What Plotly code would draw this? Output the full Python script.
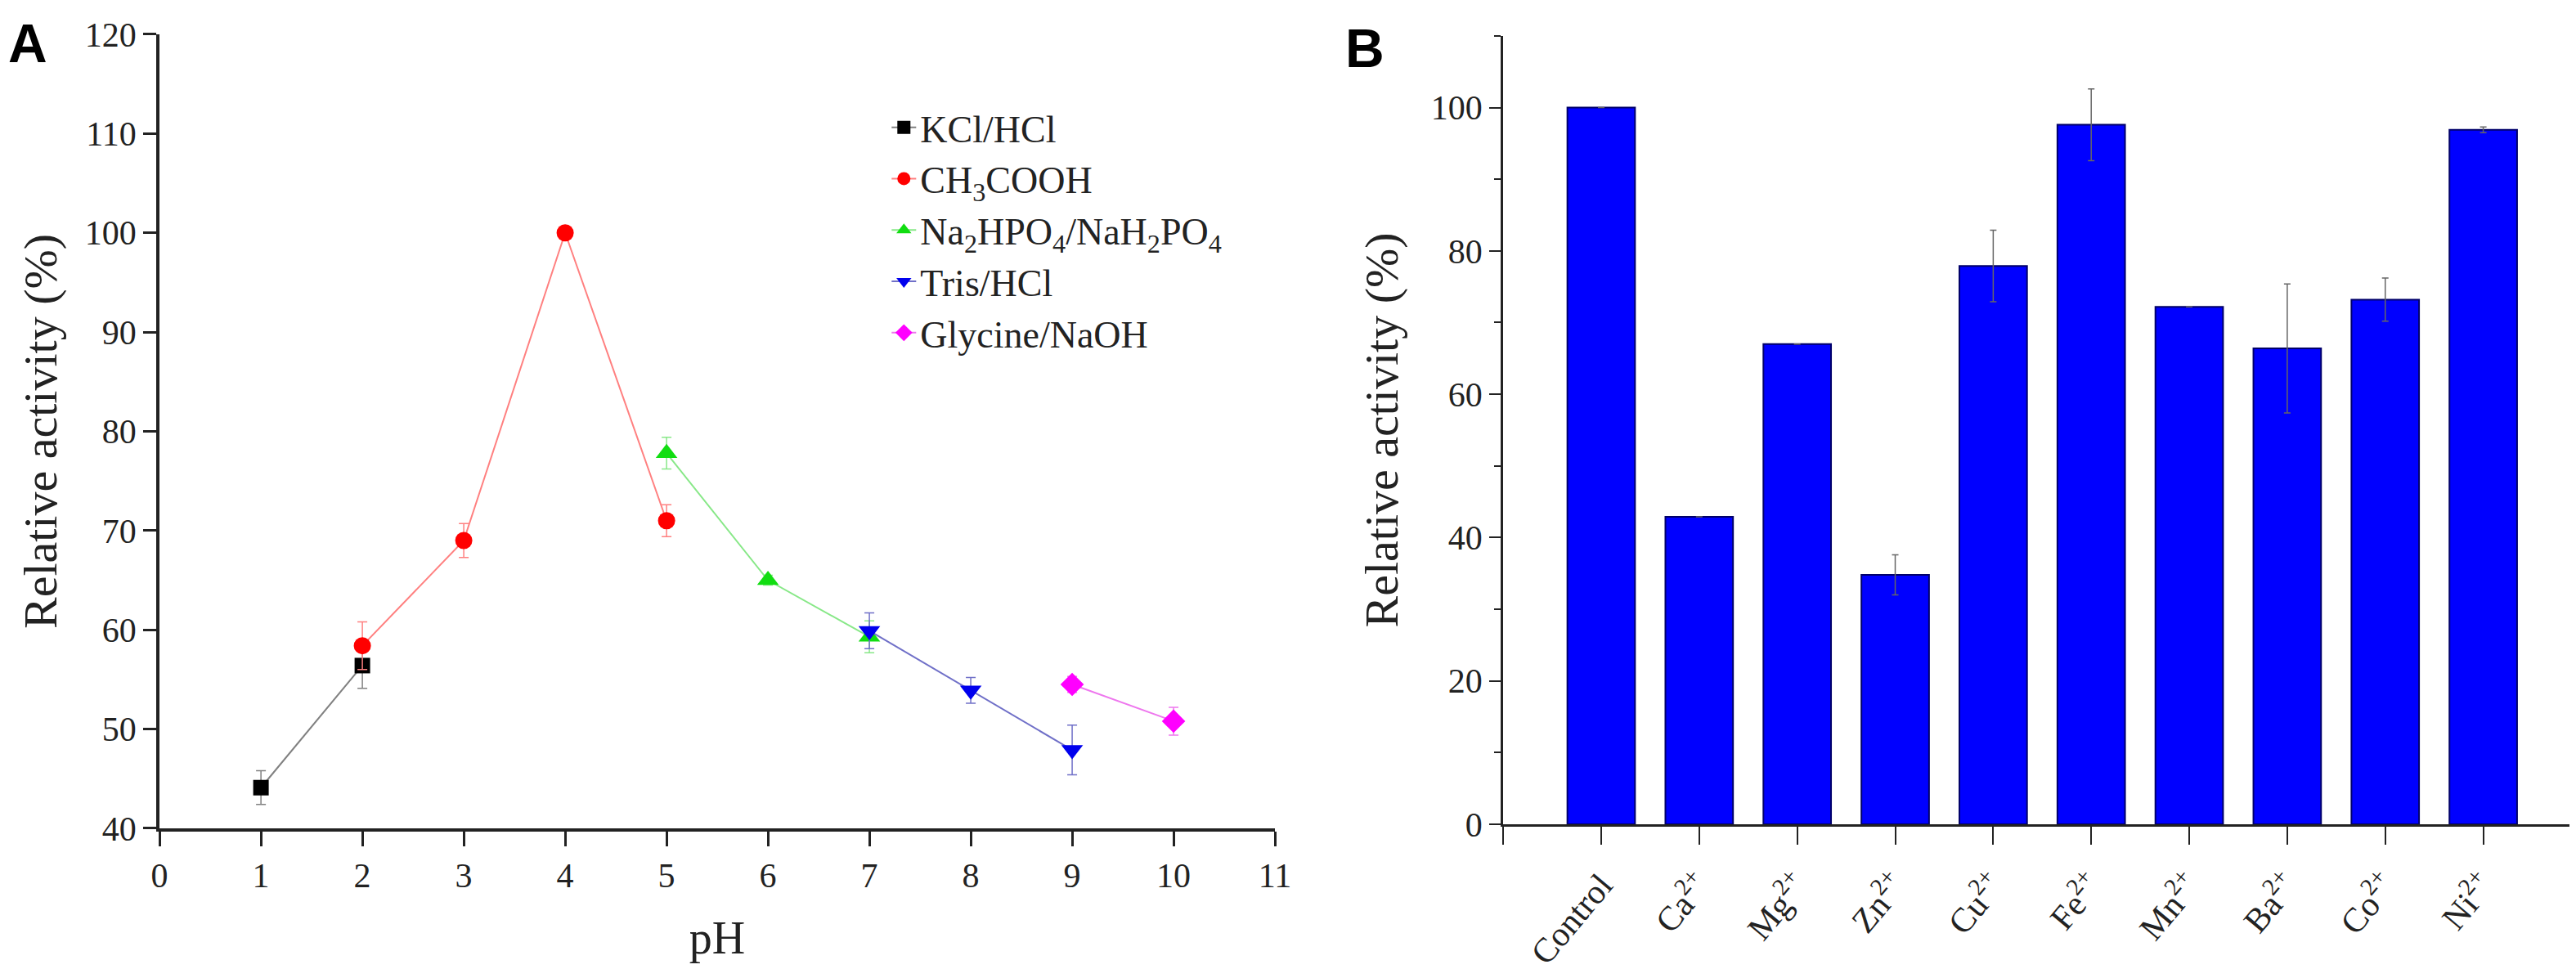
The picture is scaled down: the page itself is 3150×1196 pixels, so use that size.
import plotly.graph_objects as go

# ---- panel A data: pH profile, one list per buffer ----
kcl_ph = [1, 2]
kcl_act = [44.1, 56.4]
kcl_err = [1.7, 2.3]

acetate_ph = [2, 3, 4, 5]
acetate_act = [58.4, 69.0, 100.0, 71.0]
acetate_err = [2.4, 1.7, 0.3, 1.6]

phosphate_ph = [5, 6, 7]
phosphate_act = [77.8, 65.0, 59.3]
phosphate_err = [1.6, 0.5, 1.6]

tris_ph = [7, 8, 9]
tris_act = [59.9, 53.9, 47.9]
tris_err = [1.8, 1.3, 2.5]

glycine_ph = [9, 10]
glycine_act = [54.5, 50.8]
glycine_err = [0.8, 1.4]

# ---- panel B data: metal ions ----
ions = ["Control", "Ca<sup>2+</sup>", "Mg<sup>2+</sup>", "Zn<sup>2+</sup>", "Cu<sup>2+</sup>",
        "Fe<sup>2+</sup>", "Mn<sup>2+</sup>", "Ba<sup>2+</sup>", "Co<sup>2+</sup>", "Ni<sup>2+</sup>"]
ion_act = [100.0, 42.9, 67.0, 34.8, 77.9, 97.6, 72.2, 66.4, 73.2, 96.9]
ion_err = [0, 0, 0, 2.8, 5.0, 5.0, 0, 9.0, 3.0, 0.4]

SERIF = "Liberation Serif"

fig = go.Figure()

series = [
    ("KCl/HCl", kcl_ph, kcl_act, kcl_err, "square", "#000000", "#808080", 19),
    ("CH<sub>3</sub>COOH", acetate_ph, acetate_act, acetate_err, "circle", "#ff0000", "#ff8080", 21),
    ("Na<sub>2</sub>HPO<sub>4</sub>/NaH<sub>2</sub>PO<sub>4</sub>", phosphate_ph, phosphate_act,
     phosphate_err, "triangle-up", "#11dd11", "#88e888", 23),
    ("Tris/HCl", tris_ph, tris_act, tris_err, "triangle-down", "#0000ee", "#7070c8", 23),
    ("Glycine/NaOH", glycine_ph, glycine_act, glycine_err, "diamond", "#ff00ff", "#ee77ee", 22),
]
for name, xs, ys, es, sym, mcol, lcol, size in series:
    fig.add_trace(go.Scatter(
        x=xs, y=ys, name=name, mode="lines+markers",
        line=dict(color=lcol, width=2),
        marker=dict(symbol=sym, color=mcol, size=size),
        error_y=dict(type="data", array=es, color=lcol, thickness=1.5, width=6),
        xaxis="x", yaxis="y",
    ))

fig.add_trace(go.Bar(
    x=list(range(len(ions))), y=ion_act, width=0.69,
    marker=dict(color="#0000ff", line=dict(color="#00006a", width=2)),
    error_y=dict(type="data", array=ion_err, color="#666666", thickness=1.5, width=4),
    showlegend=False, xaxis="x2", yaxis="y2",
))

axis_font = dict(family=SERIF, size=42, color="#222222")
title_font = dict(family=SERIF, size=58, color="#222222")

fig.update_layout(
    width=3150, height=1196,
    margin=dict(l=0, r=0, t=0, b=0),
    paper_bgcolor="white", plot_bgcolor="white",
    font=dict(family=SERIF, color="#222222"),
    showlegend=True,
    legend=dict(x=0.342, y=0.907, xanchor="left", yanchor="top",
                font=dict(family=SERIF, size=46, color="#222222"),
                bgcolor="rgba(0,0,0,0)", tracegroupgap=0),
    xaxis=dict(domain=[0.0594, 0.4924], range=[0, 11], dtick=1, tick0=0,
               showline=True, linecolor="#222222", linewidth=4, mirror=False,
               ticks="outside", ticklen=18, tickwidth=3, tickcolor="#222222",
               showgrid=False, zeroline=False, tickfont=axis_font,
               title=dict(text="pH", font=dict(family=SERIF, size=56, color="#222222"),
                          standoff=34), automargin=False),
    yaxis=dict(domain=[0.1597, 0.9716], range=[40, 120], dtick=10, tick0=40,
               showline=True, linecolor="#222222", linewidth=4,
               ticks="outside", ticklen=16, tickwidth=3, tickcolor="#222222",
               showgrid=False, zeroline=False, tickfont=axis_font,
               title=dict(text="Relative activity (%)", font=title_font, standoff=16),
               automargin=False),
    xaxis2=dict(domain=[0.581, 0.9995], range=[-1, 10],
                tickmode="array", tickvals=list(range(len(ions))),
                ticktext=ions, tickangle=-50, ticklabelstandoff=8,
                showline=True, linecolor="#222222", linewidth=3,
                ticks="outside", ticklen=22, tickwidth=2, tickcolor="#222222",
                minor=dict(tick0=-1, dtick=1, ticks="outside", ticklen=22, tickwidth=2,
                           tickcolor="#222222"),
                showgrid=False, zeroline=False,
                tickfont=dict(family=SERIF, size=42, color="#222222"),
                anchor="y2", automargin=False),
    yaxis2=dict(domain=[0.1639, 0.970], range=[0, 110], dtick=20, tick0=0,
                showline=True, linecolor="#222222", linewidth=3,
                ticks="outside", ticklen=14, tickwidth=2, tickcolor="#222222",
                minor=dict(dtick=10, ticks="outside", ticklen=8, tickwidth=2,
                           tickcolor="#222222"),
                showgrid=False, zeroline=False, tickfont=axis_font,
                title=dict(text="Relative activity (%)", font=title_font, standoff=22),
                anchor="x2", automargin=False),
    annotations=[
        dict(text="<b>A</b>", x=0.0, y=1.0, xref="paper", yref="paper",
             xanchor="left", yanchor="top", showarrow=False, yshift=-6,
             font=dict(family="Liberation Sans", size=66, color="black")),
        dict(text="<b>B</b>", x=0.519, y=1.0, xref="paper", yref="paper",
             xanchor="left", yanchor="top", showarrow=False, yshift=-12,
             font=dict(family="Liberation Sans", size=66, color="black")),
    ],
)

fig.write_html("out.html")
